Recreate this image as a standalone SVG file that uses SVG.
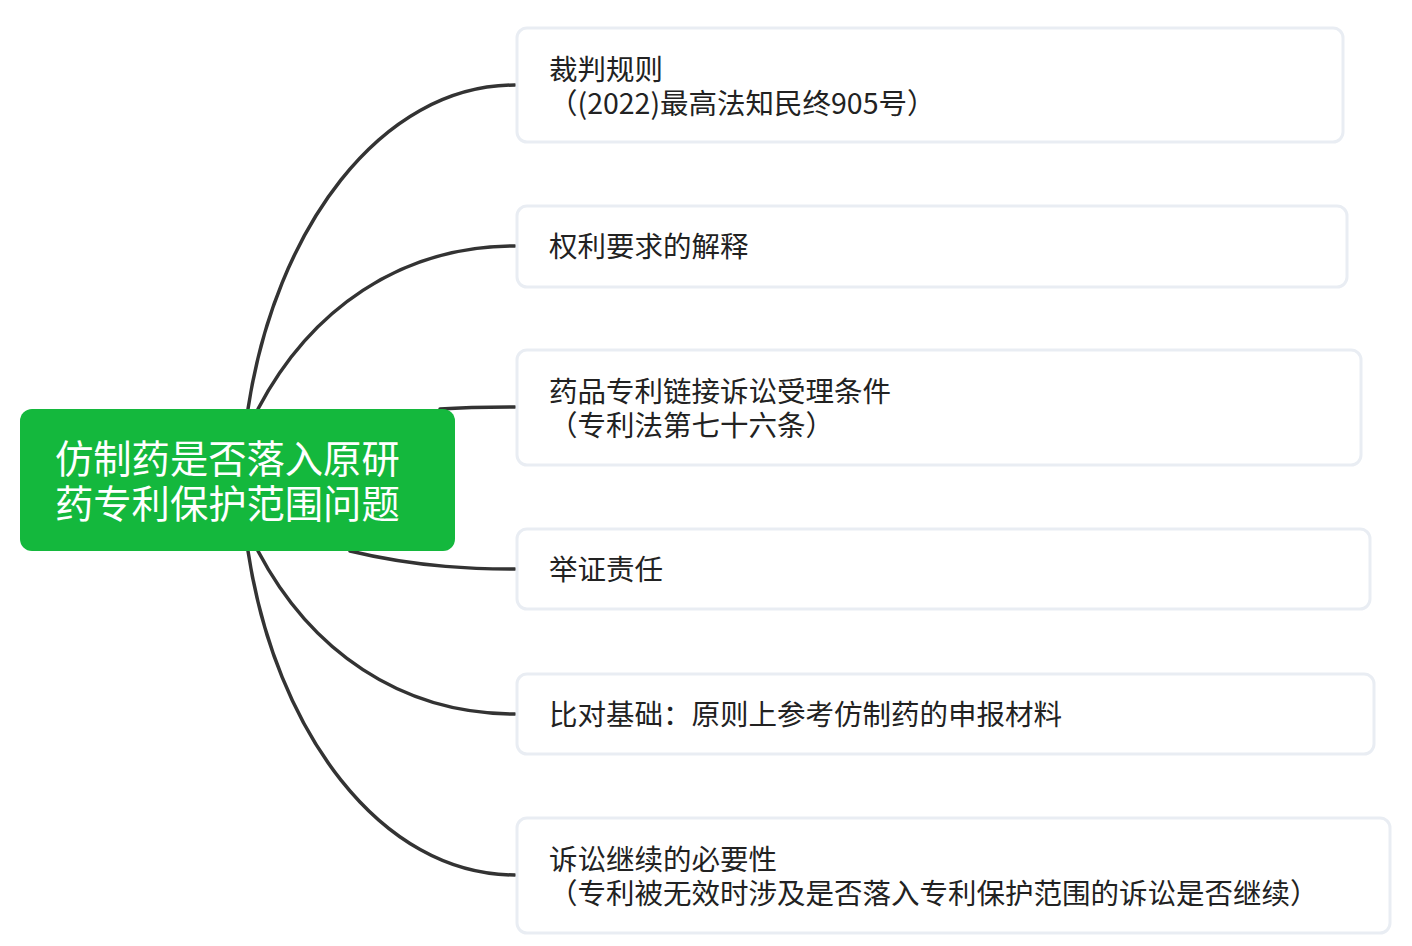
<svg xmlns="http://www.w3.org/2000/svg" width="1412" height="946" viewBox="0 0 1412 946">
<style>
.c{fill:none;stroke:#333;stroke-width:3.5;stroke-linecap:round}
.b{fill:#fff;stroke:#e9edf3;stroke-width:3}
.t{font-family:"Noto Sans CJK SC","Noto Sans",sans-serif;font-size:28.5px;fill:#222}
.r{font-family:"Noto Sans CJK SC","Noto Sans",sans-serif;font-size:38.3px;fill:#fff}
</style>
<rect width="1412" height="946" fill="#fff"/>
<g id="connectors">
<path class="c" d="M248,409 C275,230 380,85 515,85"/>
<path class="c" d="M258,409 C310,310 400,246 515,246"/>
<path class="c" d="M440,409 C470,407 490,407 515,407"/>
<path class="c" d="M350,551 C420,568 480,569 515,569"/>
<path class="c" d="M258,551 C310,650 400,714 515,714"/>
<path class="c" d="M248,551 C275,730 380,875 515,875"/>
</g>
<g id="root"><rect x="20" y="409" width="435" height="142" rx="12" fill="#14b83d"/>
<text class="r" x="55" y="473">仿制药是否落入原研</text><text class="r" x="55" y="518">药专利保护范围问题</text></g>
<g id="n1"><rect class="b" x="517" y="28" width="826" height="114" rx="10"/>
<text class="t" x="549" y="80">裁判规则</text><text class="t" x="549" y="114">（(2022)最高法知民终905号）</text></g>
<g id="n2"><rect class="b" x="517" y="206" width="830" height="81" rx="10"/>
<text class="t" x="549" y="257">权利要求的解释</text></g>
<g id="n3"><rect class="b" x="517" y="350" width="844" height="115" rx="10"/>
<text class="t" x="549" y="402">药品专利链接诉讼受理条件</text><text class="t" x="549" y="436">（专利法第七十六条）</text></g>
<g id="n4"><rect class="b" x="517" y="529" width="853" height="80" rx="10"/>
<text class="t" x="549" y="580">举证责任</text></g>
<g id="n5"><rect class="b" x="517" y="674" width="857" height="80" rx="10"/>
<text class="t" x="549" y="725">比对基础：原则上参考仿制药的申报材料</text></g>
<g id="n6"><rect class="b" x="517" y="818" width="873" height="115" rx="10"/>
<text class="t" x="549" y="870">诉讼继续的必要性</text><text class="t" x="549" y="904">（专利被无效时涉及是否落入专利保护范围的诉讼是否继续）</text></g>
</svg>
